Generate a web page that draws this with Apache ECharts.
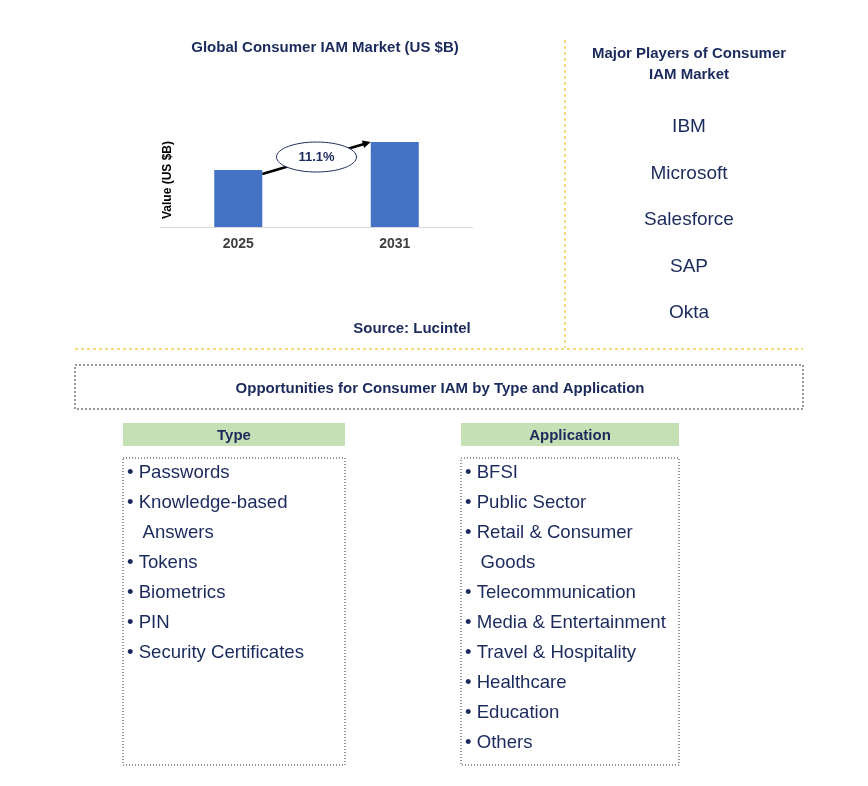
<!DOCTYPE html>
<html><head><meta charset="utf-8">
<script src="https://cdn.jsdelivr.net/npm/echarts@6/dist/echarts.min.js"></script>
<style>html,body{margin:0;padding:0;background:#fff}#main{width:868px;height:786px}</style>
</head><body><div id="main"></div>
<script>
// data
var years = ['2025', '2031'];
var values = [14.6, 21.8];
var cagr = '11.1%';
var players = ['IBM', 'Microsoft', 'Salesforce', 'SAP', 'Okta'];
var types = ['• Passwords', '• Knowledge-based', '   Answers', '• Tokens', '• Biometrics', '• PIN', '• Security Certificates'];
var apps = ['• BFSI', '• Public Sector', '• Retail & Consumer', '   Goods', '• Telecommunication', '• Media & Entertainment', '• Travel & Hospitality', '• Healthcare', '• Education', '• Others'];

var navy = '#1b2a5c';
var font = 'Arial, "Liberation Sans", sans-serif';
var myChart = echarts.init(document.getElementById('main'));

function txt(x, y, s, size, bold, align) {
    return {type: 'text', x: x, y: y + 2, style: {text: s, fill: navy, font: (bold ? 'bold ' : '') + size + 'px ' + font, align: align || 'center', verticalAlign: 'middle'}};
}
function rect(x, y, w, h, dash, fill) {
    return {type: 'rect', shape: {x: x, y: y, width: w, height: h},
        style: {fill: fill || 'none', stroke: dash ? '#333' : null, lineWidth: 1, lineDash: dash || null}};
}

var g = [];
g.push(txt(325, 46, 'Global Consumer IAM Market (US $B)', 15, true));
g.push(txt(412, 327, 'Source: Lucintel', 15, true));
g.push({type: 'text', x: 168, y: 180, rotation: Math.PI / 2, style: {text: 'Value (US $B)', fill: '#000', font: 'bold 12px ' + font, align: 'center', verticalAlign: 'middle'}});
// divider lines
g.push({type: 'line', shape: {x1: 565, y1: 40, x2: 565, y2: 348}, style: {stroke: '#e8b800', lineDash: [3, 3], lineWidth: 1}});
g.push({type: 'line', shape: {x1: 75, y1: 349, x2: 803, y2: 349}, style: {stroke: '#e8b800', lineDash: [3, 3], lineWidth: 1}});
// players
g.push(txt(689, 52, 'Major Players of Consumer', 15, true));
g.push(txt(689, 73, 'IAM Market', 15, true));
players.forEach(function (p, i) { g.push(txt(689, 125 + i * 46.5, p, 19, false)); });
// opportunities
g.push(rect(75, 365, 728, 44, [2, 2]));
g.push(txt(440, 387, 'Opportunities for Consumer IAM by Type and Application', 15, true));
g.push(rect(123, 423, 222, 23, null, '#c5e0b4'));
g.push(txt(234, 434, 'Type', 15, true));
g.push(rect(461, 423, 218, 23, null, '#c5e0b4'));
g.push(txt(570, 434, 'Application', 15, true));
g.push(rect(123, 458, 222, 307, [1, 2]));
g.push(rect(461, 458, 218, 307, [1, 2]));
types.forEach(function (t, i) { g.push(txt(127, 471 + i * 30, t, 18.6, false, 'left')); });
apps.forEach(function (t, i) { g.push(txt(465, 471 + i * 30, t, 18.6, false, 'left')); });

var option = {
    animation: false,
    grid: {left: 160, right: 395, top: 110, bottom: 559},
    xAxis: {
        type: 'category', data: years,
        axisLine: {lineStyle: {color: '#d9d9d9'}},
        axisTick: {show: false},
        axisLabel: {color: '#404040', fontWeight: 'bold', fontSize: 14, fontFamily: font, margin: 10}
    },
    yAxis: {type: 'value', min: 0, max: 30, show: false},
    series: [{
        type: 'bar', data: values, barWidth: 48,
        itemStyle: {color: '#4472c4'}
    }],
    graphic: g
};
myChart.setOption(option);

// CAGR arrow between bar tops
var p1 = myChart.convertToPixel({seriesIndex: 0}, [0, values[0]]);
var p2 = myChart.convertToPixel({seriesIndex: 0}, [1, values[1]]);
var x1 = p1[0] + 24, y1 = p1[1] + 4, x2 = p2[0] - 24, y2 = p2[1];
var ang = Math.atan2(y2 - y1, x2 - x1);
var hl = 9;
myChart.setOption({graphic: g.concat([
    {type: 'line', shape: {x1: x1, y1: y1, x2: x2 - 6 * Math.cos(ang), y2: y2 - 6 * Math.sin(ang)}, style: {stroke: '#000', lineWidth: 2.5}},
    {type: 'polygon', shape: {points: [[x2, y2],
        [x2 - hl * Math.cos(ang - 0.45), y2 - hl * Math.sin(ang - 0.45)],
        [x2 - hl * Math.cos(ang + 0.45), y2 - hl * Math.sin(ang + 0.45)]]}, style: {fill: '#000'}},
    {type: 'ellipse', shape: {cx: (x1 + x2) / 2, cy: (y1 + y2) / 2 - 1, rx: 40, ry: 15}, style: {fill: '#fff', stroke: '#1f2d5a', lineWidth: 1}},
    txt((x1 + x2) / 2, (y1 + y2) / 2 - 3, cagr, 13, true)
])});
</script>
</body></html>
